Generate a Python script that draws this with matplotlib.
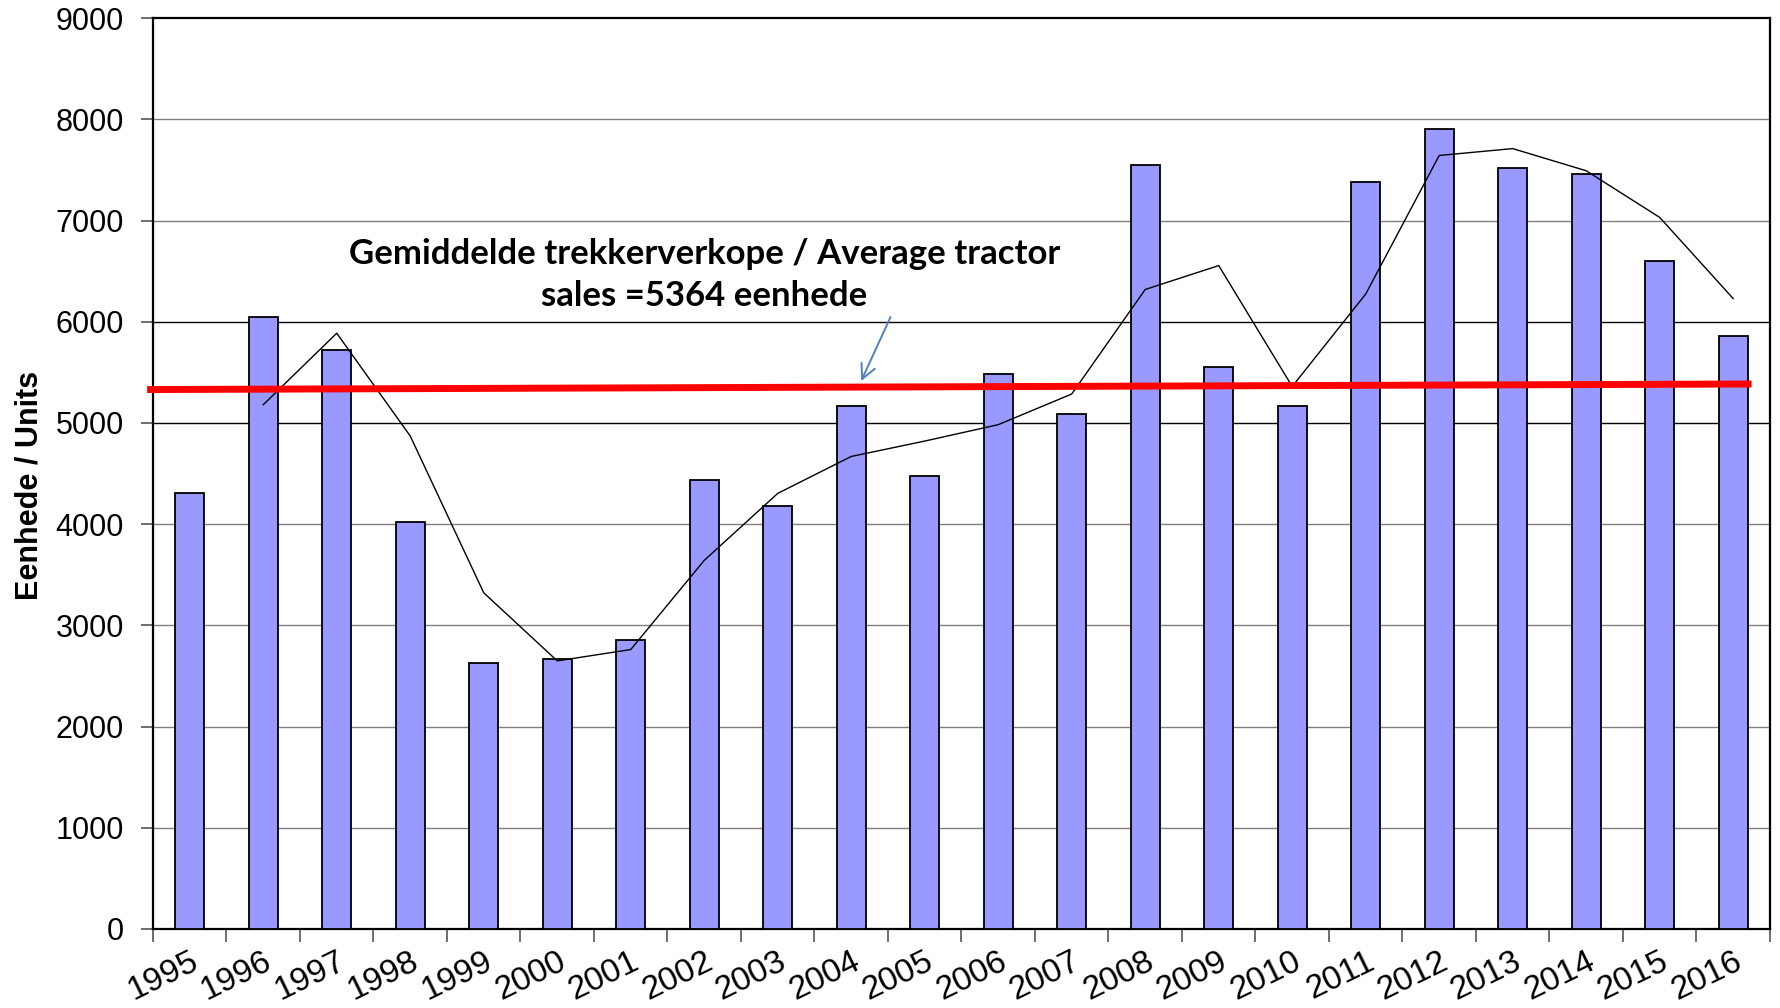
import numpy as np
import matplotlib
matplotlib.use("Agg")
import matplotlib.pyplot as plt

years = [str(y) for y in range(1995, 2017)]
units = [4310, 6050, 5724, 4018, 2626, 2671, 2851, 4433, 4175, 5163, 4478,
         5488, 5084, 7553, 5556, 5163, 7385, 7901, 7520, 7463, 6599, 5859]
# 2-year moving average line (as drawn, starts at 1996)
avg_years = years[1:]
moving_avg = [5180, 5887, 4871, 3322, 2649, 2761, 3642, 4304, 4669, 4821,
              4983, 5286, 6319, 6555, 5360, 6274, 7643, 7711, 7492, 7031, 6229]
# red average line, slightly sloped as in the original
avg_line = [5330, 5385]
note = "Gemiddelde trekkerverkope / Average tractor\nsales =5364 eenhede"

plt.rcParams['font.family'] = ['Liberation Sans', 'DejaVu Sans']

fig = plt.figure(figsize=(17.81, 10.08), dpi=100)
ax = fig.add_axes([0.0859, 0.0784, 0.9079, 0.9036])

x = np.arange(len(years))
ax.bar(x, units, width=0.39, color='#9999FF', edgecolor='black', linewidth=1.3, zorder=3)

xa = [years.index(y) for y in avg_years]
ax.plot(xa, moving_avg, color='black', linewidth=1.0, zorder=4)

ax.plot([-0.58, 21.25], avg_line, color='#FF0000', linewidth=5, solid_capstyle='butt',
        zorder=5, clip_on=False)

ax.text(7.0, 6464, note, ha='center', va='center', fontsize=25, fontweight='bold',
        family=['Lato', 'DejaVu Sans'], linespacing=1.4, zorder=6)
ax.annotate('', xy=(9.12, 5390), xytext=(9.55, 6071),
            arrowprops=dict(arrowstyle='->', color='#4F81BD', lw=1.4,
                            mutation_scale=26), zorder=6)

ax.set_xlim(-0.5, len(years) - 0.5)
ax.set_ylim(0, 9000)
ax.set_yticks(range(0, 9001, 1000))
# gridlines: grey, the two around the average come out black in the original
for g in range(1000, 9000, 1000):
    ax.axhline(g, color='black' if g in (5000, 6000) else '#808080', linewidth=1.0, zorder=0)

ax.set_xticks(x)
ax.set_xticklabels(years, rotation=26, ha='right', va='top', rotation_mode='anchor')
ax.set_xticks(np.arange(-0.5, len(years), 1.0), minor=True)
ax.tick_params(axis='x', which='major', length=0, pad=12, labelsize=24)
ax.tick_params(axis='x', which='minor', length=9, width=1.2, color='#555555', direction='out')
ax.tick_params(axis='y', length=9, width=1.2, color='#555555', pad=12, labelsize=22)

for s in ax.spines.values():
    s.set_linewidth(1.6)
    s.set_color('black')

ax.set_ylabel('Eenhede / Units', fontsize=22, fontweight='bold')
ax.yaxis.set_label_coords(-0.067, 0.487)

fig.savefig('out.png', dpi=100)
